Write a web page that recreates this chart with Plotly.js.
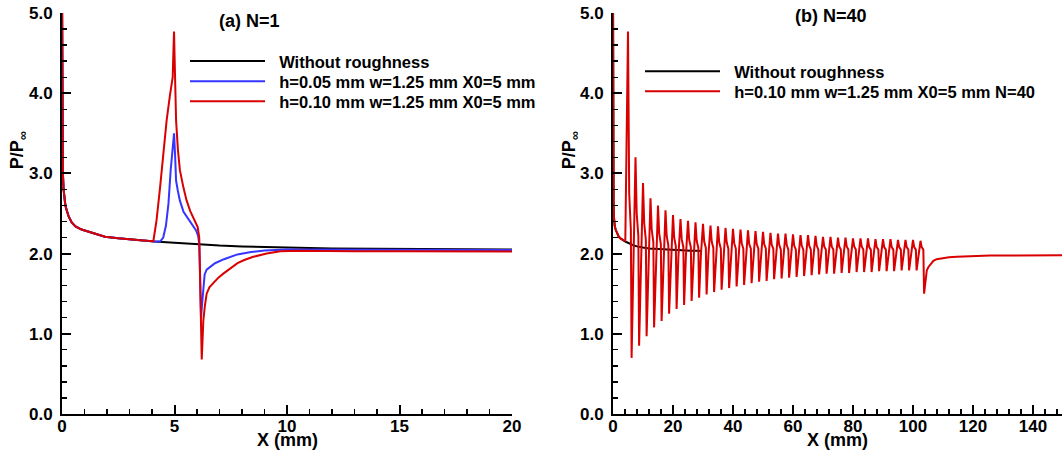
<!DOCTYPE html>
<html>
<head>
<meta charset="utf-8">
<script src="https://cdn.plot.ly/plotly-3.0.1.min.js"></script>
<style>html,body{margin:0;padding:0;background:#fff;}#chart{width:1062px;height:457px;}</style>
</head>
<body>
<div id="chart"></div>
<script>
// ---------- Data ----------
// Panel (a): smooth wall, x in mm, P/Pinf
const blackX = [0, 0.01, 0.02, 0.04, 0.07, 0.1, 0.15, 0.21, 0.3, 0.43, 0.6, 0.87, 1.2, 1.5, 1.91, 2.5, 3, 3.5, 4.1, 5, 5.24, 6, 7, 8, 9, 10, 12, 14, 16, 18, 20, 22, 24, 26, 28, 29.5];
const blackP = [5.3, 3.9, 3.3, 3.0, 2.8, 2.7, 2.6, 2.54, 2.46, 2.39, 2.34, 2.30, 2.27, 2.25, 2.21, 2.19, 2.175, 2.165, 2.15, 2.135, 2.13, 2.115, 2.10, 2.09, 2.08, 2.075, 2.065, 2.06, 2.055, 2.05, 2.045, 2.042, 2.04, 2.037, 2.035, 2.033];

// Panel (a): h=0.05 mm single element
const blueX = [0, 0.01, 0.02, 0.04, 0.07, 0.1, 0.15, 0.21, 0.3, 0.43, 0.6, 0.87, 1.2, 1.5, 1.91, 2.5, 3, 3.5, 4.1, 4.36, 4.5, 4.62, 4.73, 4.83, 4.92, 4.98, 5.03, 5.07, 5.15, 5.24, 5.4, 5.61, 5.8, 5.96, 6.05, 6.1, 6.14, 6.18, 6.22, 6.28, 6.34, 6.43, 6.6, 6.8, 7.2, 7.8, 8.4, 9.0, 10, 12, 15, 20];
const blueP = [5.3, 3.9, 3.3, 3.0, 2.8, 2.7, 2.6, 2.54, 2.46, 2.39, 2.34, 2.30, 2.27, 2.25, 2.21, 2.19, 2.175, 2.165, 2.15, 2.15, 2.2, 2.35, 2.62, 3.04, 3.35, 3.5, 3.2, 2.91, 2.78, 2.66, 2.52, 2.43, 2.36, 2.29, 2.22, 2.12, 1.7, 1.2, 1.35, 1.6, 1.74, 1.80, 1.84, 1.88, 1.93, 1.99, 2.02, 2.04, 2.05, 2.05, 2.05, 2.045];

// Panel (a): h=0.10 mm single element
const redX = [0, 0.01, 0.02, 0.04, 0.07, 0.1, 0.15, 0.21, 0.3, 0.43, 0.6, 0.87, 1.2, 1.5, 1.91, 2.5, 3, 3.5, 4.06, 4.2, 4.36, 4.5, 4.65, 4.8, 4.92, 4.96, 4.98, 5.0, 5.03, 5.07, 5.15, 5.24, 5.4, 5.54, 5.7, 5.91, 6.03, 6.1, 6.15, 6.21, 6.25, 6.28, 6.35, 6.43, 6.55, 6.7, 6.95, 7.17, 7.5, 7.8, 8.1, 8.5, 9.1, 9.7, 10.5, 11.5, 13, 15, 17.5, 20];
const redP = [5.3, 3.9, 3.3, 3.0, 2.8, 2.7, 2.6, 2.54, 2.46, 2.39, 2.34, 2.30, 2.27, 2.25, 2.21, 2.19, 2.175, 2.165, 2.155, 2.41, 2.83, 3.25, 3.66, 3.98, 4.2, 4.6, 4.77, 4.5, 4.1, 3.66, 3.3, 3.04, 2.82, 2.66, 2.53, 2.41, 2.33, 2.2, 1.6, 0.68, 0.95, 1.16, 1.35, 1.5, 1.58, 1.63, 1.70, 1.75, 1.82, 1.88, 1.92, 1.96, 2.0, 2.03, 2.035, 2.03, 2.03, 2.03, 2.028, 2.025];

// Panel (b): 40 elements, features of each element (x in mm, P/Pinf)
const n40FootX = [4.1, 6.8, 9.3, 11.8, 14.3, 16.8, 19.3, 21.8, 24.3, 26.8, 29.3, 31.8, 34.3, 36.8, 39.3, 41.8, 44.3, 46.8, 49.3, 51.8, 54.3, 56.8, 59.3, 61.8, 64.3, 66.8, 69.3, 71.8, 74.3, 76.8, 79.3, 81.8, 84.3, 86.8, 89.3, 91.8, 94.3, 96.8, 99.3, 101.8];
const n40FootP = [2.16, 1.9, 1.9, 1.92, 1.93, 1.94, 1.95, 1.96, 1.97, 1.97, 1.98, 1.98, 1.98, 1.99, 1.99, 1.99, 1.99, 2.0, 2.0, 2.0, 2.0, 2.0, 2.0, 2.0, 2.0, 2.0, 2.0, 2.0, 2.0, 2.0, 2.0, 2.0, 2.0, 2.0, 2.0, 2.0, 2.0, 2.0, 2.0, 2.0];
const n40PeakX = [5, 7.5, 10, 12.5, 15, 17.5, 20, 22.5, 25, 27.5, 30, 32.5, 35, 37.5, 40, 42.5, 45, 47.5, 50, 52.5, 55, 57.5, 60, 62.5, 65, 67.5, 70, 72.5, 75, 77.5, 80, 82.5, 85, 87.5, 90, 92.5, 95, 97.5, 100, 102.5];
const n40PeakP = [4.77, 3.2, 2.88, 2.69, 2.6, 2.54, 2.48, 2.43, 2.41, 2.39, 2.37, 2.35, 2.34, 2.32, 2.31, 2.30, 2.29, 2.28, 2.27, 2.26, 2.25, 2.25, 2.24, 2.23, 2.23, 2.22, 2.21, 2.21, 2.20, 2.20, 2.19, 2.19, 2.19, 2.18, 2.18, 2.18, 2.17, 2.17, 2.17, 2.16];
const n40KneeX = [5.4, 7.9, 10.4, 12.9, 15.4, 17.9, 20.4, 22.9, 25.4, 27.9, 30.4, 32.9, 35.4, 37.9, 40.4, 42.9, 45.4, 47.9, 50.4, 52.9, 55.4, 57.9, 60.4, 62.9, 65.4, 67.9, 70.4, 72.9, 75.4, 77.9, 80.4, 82.9, 85.4, 87.9, 90.4, 92.9, 95.4, 97.9, 100.4, 102.9];
const n40KneeP = [2.75, 2.5, 2.38, 2.3, 2.25, 2.22, 2.2, 2.18, 2.17, 2.16, 2.15, 2.15, 2.14, 2.14, 2.13, 2.13, 2.12, 2.12, 2.12, 2.11, 2.11, 2.11, 2.1, 2.1, 2.1, 2.1, 2.09, 2.09, 2.09, 2.09, 2.09, 2.09, 2.08, 2.08, 2.08, 2.08, 2.08, 2.08, 2.08, 2.08];
const n40ShoulderX = [5.95, 8.45, 10.95, 13.45, 15.95, 18.45, 20.95, 23.45, 25.95, 28.45, 30.95, 33.45, 35.95, 38.45, 40.95, 43.45, 45.95, 48.45, 50.95, 53.45, 55.95, 58.45, 60.95, 63.45, 65.95, 68.45, 70.95, 73.45, 75.95, 78.45, 80.95, 83.45, 85.95, 88.45, 90.95, 93.45, 95.95, 98.45, 100.95, 103.45];
const n40ShoulderP = [2.3, 2.22, 2.17, 2.14, 2.12, 2.1, 2.09, 2.08, 2.08, 2.07, 2.07, 2.07, 2.06, 2.06, 2.06, 2.06, 2.06, 2.06, 2.06, 2.06, 2.05, 2.05, 2.05, 2.05, 2.05, 2.05, 2.05, 2.05, 2.05, 2.05, 2.05, 2.05, 2.05, 2.05, 2.05, 2.05, 2.05, 2.05, 2.05, 2.05];
const n40TroughX = [6.2, 8.7, 11.2, 13.7, 16.2, 18.7, 21.2, 23.7, 26.2, 28.7, 31.2, 33.7, 36.2, 38.7, 41.2, 43.7, 46.2, 48.7, 51.2, 53.7, 56.2, 58.7, 61.2, 63.7, 66.2, 68.7, 71.2, 73.7, 76.2, 78.7, 81.2, 83.7, 86.2, 88.7, 91.2, 93.7, 96.2, 98.7, 101.2, 103.7];
const n40TroughP = [0.70, 0.85, 0.97, 1.08, 1.16, 1.25, 1.31, 1.36, 1.41, 1.45, 1.49, 1.52, 1.55, 1.57, 1.59, 1.61, 1.63, 1.65, 1.66, 1.68, 1.69, 1.70, 1.71, 1.72, 1.73, 1.74, 1.75, 1.75, 1.76, 1.76, 1.77, 1.77, 1.77, 1.78, 1.78, 1.78, 1.79, 1.79, 1.79, 1.50];
// Panel (b): recovery downstream of the last element
const n40TailX = [104.2, 104.6, 105.1, 106, 106.8, 107.9, 110, 112, 114.6, 118, 122, 125.7, 130, 140, 150];
const n40TailP = [1.72, 1.79, 1.83, 1.88, 1.91, 1.93, 1.945, 1.955, 1.96, 1.967, 1.972, 1.975, 1.977, 1.98, 1.98];

const legendA = ['Without roughness', 'h=0.05 mm w=1.25 mm X0=5 mm', 'h=0.10 mm w=1.25 mm X0=5 mm'];
const legendB = ['Without roughness', 'h=0.10 mm w=1.25 mm X0=5 mm N=40'];
const ticksA = [0, 5, 10, 15, 20];
const ticksB = [0, 20, 40, 60, 80, 100, 120, 140];
const ticksP = [0, 1, 2, 3, 4, 5];

// ---------- Build N=40 series from the element features ----------
const n40X = [], n40P = [];
blackX.forEach((x, i) => { if (x < n40FootX[0]) { n40X.push(x); n40P.push(blackP[i]); } });
for (let k = 0; k < n40PeakX.length; k++) {
  n40X.push(n40FootX[k], n40PeakX[k], n40KneeX[k], n40ShoulderX[k], n40TroughX[k]);
  n40P.push(n40FootP[k], n40PeakP[k], n40KneeP[k], n40ShoulderP[k], n40TroughP[k]);
}
n40X.push(...n40TailX); n40P.push(...n40TailP);

// ---------- Styling ----------
const FONT = 'Liberation Sans, Arial, Helvetica, sans-serif';
const BLACK = '#000000', BLUE = '#3535ff', RED = '#d80000';
const GAP = '\u00A0\u00A0';

const traces = [
  {x: blackX, y: blackP, xaxis: 'x', yaxis: 'y', mode: 'lines', name: GAP + legendA[0], line: {color: BLACK, width: 2}, legend: 'legend'},
  {x: blueX, y: blueP, xaxis: 'x', yaxis: 'y', mode: 'lines', name: GAP + legendA[1], line: {color: BLUE, width: 2}, legend: 'legend2'},
  {x: redX, y: redP, xaxis: 'x', yaxis: 'y', mode: 'lines', name: GAP + legendA[2], line: {color: RED, width: 2}, legend: 'legend3'},
  {x: blackX, y: blackP, xaxis: 'x2', yaxis: 'y2', mode: 'lines', name: GAP + legendB[0], line: {color: BLACK, width: 2}, legend: 'legend4'},
  {x: n40X, y: n40P, xaxis: 'x2', yaxis: 'y2', mode: 'lines', name: GAP + legendB[1], line: {color: RED, width: 2}, legend: 'legend5'}
];

const tickFont = {family: FONT, size: 17, color: '#000', weight: 'bold'};
function xAxis(domain, range, tickvals, minorD, anchor) {
  return {
    domain: domain, range: range, anchor: anchor, tickvals: tickvals, ticktext: tickvals.map(String),
    showline: true, linecolor: '#000', linewidth: 2, mirror: false,
    ticks: 'inside', ticklen: 9, tickwidth: 2, tickcolor: '#000',
    minor: {dtick: minorD, ticks: 'inside', ticklen: 5, tickwidth: 1.3, tickcolor: '#000', showgrid: false},
    showgrid: false, zeroline: false, tickfont: tickFont, ticklabelstandoff: -4, fixedrange: true
  };
}
function yAxis(anchor) {
  return {
    domain: [0, 1], range: [0, 5], anchor: anchor, tickvals: ticksP, ticktext: ticksP.map(v => v.toFixed(1)),
    showline: true, linecolor: '#000', linewidth: 2, mirror: false,
    ticks: 'inside', ticklen: 9, tickwidth: 2, tickcolor: '#000',
    minor: {dtick: 0.2, ticks: 'inside', ticklen: 5, tickwidth: 1.3, tickcolor: '#000', showgrid: false},
    showgrid: false, zeroline: false, tickfont: tickFont, ticklabelstandoff: 4, fixedrange: true
  };
}

const titleFont = {family: FONT, size: 18, color: '#000', weight: 'bold'};
const legendFont = {family: FONT, size: 16.5, color: '#000', weight: 'bold'};
function legendAt(x, y) {
  return {x: x, y: y, xanchor: 'left', yanchor: 'top', bgcolor: 'rgba(0,0,0,0)', borderwidth: 0,
          font: legendFont, itemwidth: 75, tracegroupgap: 0, itemclick: false, itemdoubleclick: false};
}

const layout = {
  width: 1062, height: 457,
  margin: {l: 62, r: 0, t: 13, b: 43},
  paper_bgcolor: '#fff', plot_bgcolor: '#fff',
  font: {family: FONT, color: '#000'},
  showlegend: true,
  xaxis: xAxis([0, 0.45], [0, 20], ticksA, 1, 'y'),
  yaxis: yAxis('x'),
  xaxis2: xAxis([0.551, 1], [0, 149.67], ticksB, 4, 'y2'),
  yaxis2: yAxis('x2'),
  legend: legendAt(0.123, 0.923),
  legend2: legendAt(0.123, 0.873),
  legend3: legendAt(0.123, 0.823),
  legend4: legendAt(0.578, 0.898),
  legend5: legendAt(0.578, 0.848),
  annotations: [
    {text: '(a) N=1', xref: 'paper', yref: 'paper', x: 0.155, y: 0.98, xanchor: 'left', yanchor: 'middle', showarrow: false, font: titleFont},
    {text: '(b) N=40', xref: 'paper', yref: 'paper', x: 0.731, y: 0.9925, xanchor: 'left', yanchor: 'middle', showarrow: false, font: titleFont},
    {text: 'X (mm)', xref: 'paper', yref: 'paper', x: 0.225, y: -0.066, xanchor: 'center', yanchor: 'middle', showarrow: false, font: titleFont},
    {text: 'X (mm)', xref: 'paper', yref: 'paper', x: 0.7755, y: -0.066, xanchor: 'center', yanchor: 'middle', showarrow: false, font: titleFont},
    {text: 'P/P<sub>∞</sub>', xref: 'paper', yref: 'paper', x: -0.044, y: 0.658, xanchor: 'center', yanchor: 'middle', textangle: -90, showarrow: false, font: titleFont},
    {text: 'P/P<sub>∞</sub>', xref: 'paper', yref: 'paper', x: 0.508, y: 0.658, xanchor: 'center', yanchor: 'middle', textangle: -90, showarrow: false, font: titleFont}
  ]
};

Plotly.newPlot('chart', traces, layout, {displayModeBar: false, staticPlot: true});
</script>
</body>
</html>
